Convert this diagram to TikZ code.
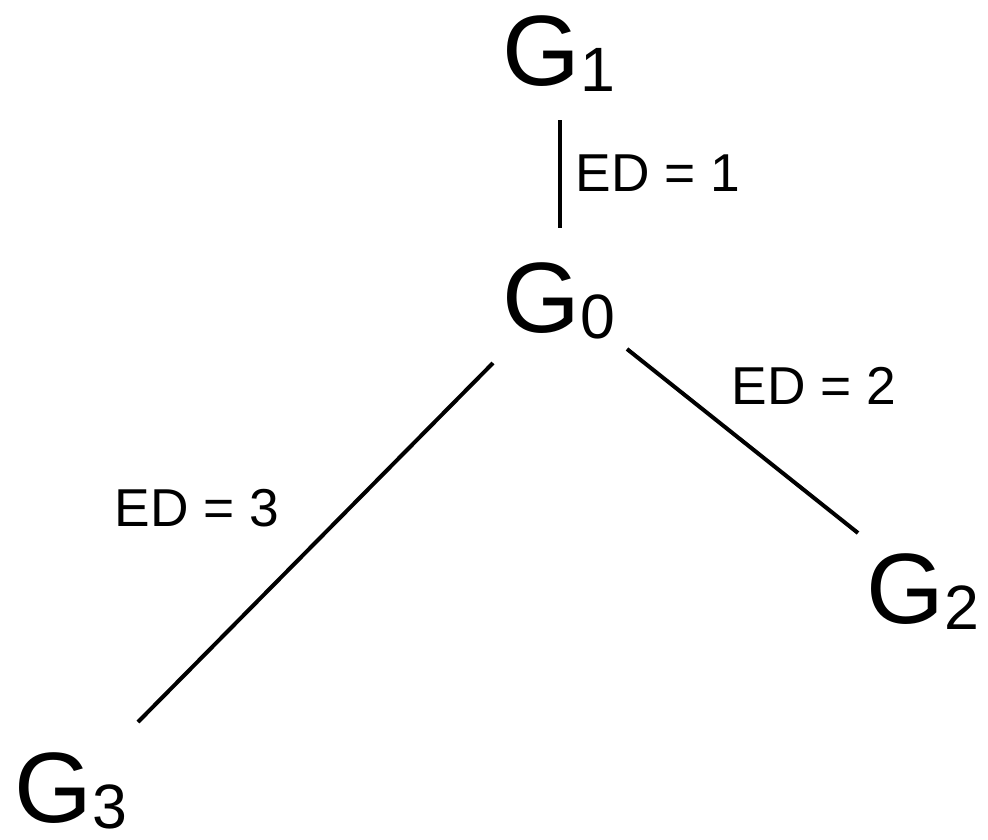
\documentclass[tikz,border=0pt]{standalone}
\usepackage{fontspec}
\setmainfont{Liberation Sans}
\usetikzlibrary{calc}
\newcommand{\Gbig}{\fontsize{75pt}{78pt}\selectfont}
\newcommand{\Gsub}{\fontsize{47pt}{50pt}\selectfont}
\newcommand{\Gname}[1]{{\Gbig G\raisebox{-5pt}{\Gsub #1}}}
\begin{document}
\begin{tikzpicture}[x=0.75pt,y=-0.75pt,
  gnode/.style={inner sep=0pt, anchor=base west},
  edlabel/.style={inner sep=0pt, font=\fontsize{40pt}{42pt}\selectfont},
  edge/.style={line width=3pt}]
\useasboundingbox (0,0) rectangle (988,839);
\node[gnode] (g1) at (502,85) {\Gname{1}};
\node[gnode] (g0) at (502,332) {\Gname{0}};
\node[gnode] (g2) at (866,623) {\Gname{2}};
\node[gnode] (g3) at (14,822) {\Gname{3}};
\draw[edge] ($(g1.base west)+(58,35)$) -- ($(g0.base west)+(58,-104)$);
\draw[edge] ($(g0.base west)+(-9,31)$) -- ($(g3.base west)+(124,-100)$);
\draw[edge] ($(g0.base west)+(125,17)$) -- ($(g2.base west)+(-8,-90)$);
\node[edlabel] (l1) at (658,173) {ED = 1};
\node[edlabel] (l2) at (814,386) {ED = 2};
\node[edlabel] (l3) at (197,508) {ED = 3};
\end{tikzpicture}
\end{document}
